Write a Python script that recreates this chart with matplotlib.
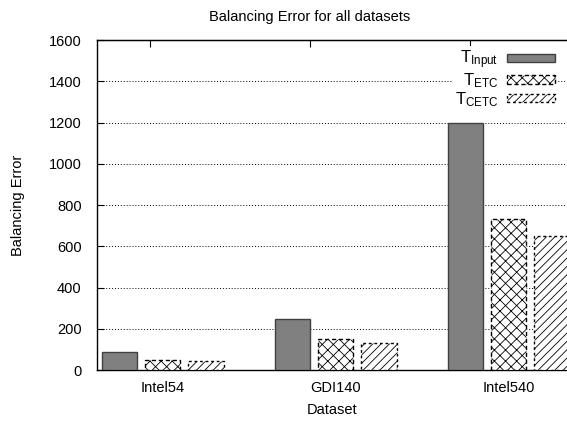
import numpy as np
import matplotlib
matplotlib.use("Agg")
import matplotlib.pyplot as plt

plt.rcParams['font.family'] = ['Liberation Sans', 'DejaVu Sans']
plt.rcParams['mathtext.fontset'] = 'custom'
plt.rcParams['mathtext.rm'] = 'Liberation Sans'
plt.rcParams['mathtext.it'] = 'Liberation Sans'
plt.rcParams['hatch.linewidth'] = 0.6

datasets = ['Intel54', 'GDI140', 'Intel540']
t_input = [89, 247, 1200]
t_etc = [49, 149, 732]
t_cetc = [44, 132, 650]
series_names = [r'$\mathrm{T}_{\mathrm{Input}}$', r'$\mathrm{T}_{\mathrm{ETC}}$', r'$\mathrm{T}_{\mathrm{CETC}}$']
yticks = [0, 200, 400, 600, 800, 1000, 1200, 1400, 1600]

FS = 10.5

fig = plt.figure(figsize=(5.67, 4.21), dpi=100)
ax = fig.add_axes([97/567, 1 - 370/421, 1 - 97/567, (370 - 40)/421])

x = np.arange(len(datasets))
w = 0.205
ax.bar(x - 0.25, t_input, w, color='#808080', edgecolor='#404040', linewidth=1.0,
       label=series_names[0], zorder=3)
ax.bar(x, t_etc, w, color='white', edgecolor='black', hatch='xxx', linewidth=1.0,
       linestyle=(0, (3, 2)), label=series_names[1], zorder=3)
ax.bar(x + 0.25, t_cetc, w, color='white', edgecolor='black', hatch='////', linewidth=1.0,
       linestyle=(0, (2, 2)), label=series_names[2], zorder=3)

ax.set_xlim(-0.379, 2.338)
ax.set_ylim(0, 1600)
ax.set_yticks(yticks)
ax.set_xticks(x)
ax.set_xticklabels(datasets, fontsize=FS)
ax.tick_params(axis='x', length=0, pad=8)
ax.tick_params(axis='y', direction='in', length=5, labelsize=FS, pad=11)
for v in yticks[1:-1]:
    ax.axhline(v, color='black', linestyle=(0, (1, 2)), linewidth=0.7, zorder=1)

ax.spines['right'].set_visible(False)
for s in ['left', 'bottom', 'top']:
    ax.spines[s].set_linewidth(1.0)

top = ax.secondary_xaxis('top')
top.set_xticks([-0.072, 0.853, 1.777])
top.set_xticklabels([])
top.tick_params(direction='in', length=5)

fig.text(332/567, 1 - 410/421, 'Dataset', ha='center', va='center', fontsize=FS)
fig.text(18/567, 1 - 205/421, 'Balancing Error', ha='center', va='center', rotation=90, fontsize=FS)
fig.text(310/567, 1 - 17/421, 'Balancing Error for all datasets', ha='center', va='center', fontsize=FS)

leg = ax.legend(loc='upper right', bbox_to_anchor=(566/567, 1 - 38/421), bbox_transform=fig.transFigure,
                markerfirst=False, frameon=True, fancybox=False, edgecolor='none', facecolor='white',
                framealpha=1.0, fontsize=12, handlelength=2.9, handleheight=0.4,
                labelspacing=0.0, handletextpad=0.5, borderpad=0.15)
leg.set_zorder(5)

fig.savefig('out.png', dpi=100)
